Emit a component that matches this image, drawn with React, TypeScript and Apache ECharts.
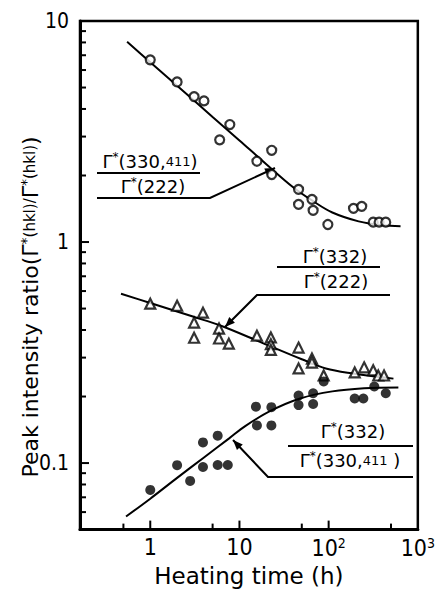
import React, { useEffect, useRef } from 'react';
import * as echarts from 'echarts';

// ---- data ----
// open circles: Γ*(330,411)/Γ*(222)
const openX = [1, 2, 3.1, 4, 6, 7.8, 15.7, 23, 23, 46, 46, 65, 67, 98, 190, 235, 316, 368, 437];
const openY = [6.67, 5.3, 4.55, 4.35, 2.9, 3.4, 2.32, 2.6, 2.02, 1.73, 1.48, 1.56, 1.39, 1.2, 1.42, 1.45, 1.23, 1.23, 1.23];
// open triangles: Γ*(332)/Γ*(222)
const triX = [1, 2, 3.1, 3.1, 3.9, 5.9, 5.9, 7.6, 15.7, 22.5, 22.5, 22.5, 46, 46, 65, 65, 88, 196, 250, 316, 360, 418];
const triY = [0.526, 0.515, 0.432, 0.369, 0.479, 0.406, 0.366, 0.347, 0.377, 0.37, 0.345, 0.325, 0.333, 0.268, 0.297, 0.285, 0.249, 0.257, 0.271, 0.263, 0.249, 0.249];
// filled circles: Γ*(332)/Γ*(330,411)
const filledX = [1, 2, 2.8, 3.9, 3.9, 5.7, 5.7, 7.4, 15.3, 22.8, 15.7, 22.8, 46, 46, 67, 67, 88, 196, 245, 325, 437];
const filledY = [0.0756, 0.0978, 0.083, 0.124, 0.096, 0.133, 0.098, 0.098, 0.18, 0.179, 0.148, 0.148, 0.202, 0.183, 0.207, 0.185, 0.234, 0.196, 0.196, 0.222, 0.207];

// fitted curves
const fitOpenX = [0.55, 1, 2, 5, 10, 20, 40, 67, 110, 217, 400, 640];
const fitOpenY = [8.05, 6.5, 5.1, 3.68, 2.88, 2.25, 1.77, 1.53, 1.36, 1.24, 1.19, 1.18];
const fitTriX = [0.47, 1, 3, 6.2, 18, 50, 93, 180, 533];
const fitTriY = [0.583, 0.53, 0.46, 0.418, 0.35, 0.295, 0.268, 0.255, 0.241];
const fitFilledX = [0.535, 1, 2, 4, 7.6, 11.6, 22.8, 48, 110, 250, 605];
const fitFilledY = [0.0573, 0.069, 0.0857, 0.106, 0.129, 0.147, 0.173, 0.196, 0.211, 0.218, 0.22];

// axes
const X_MIN = 0.163;
const X_MAX = 1000;
const Y_MIN = 0.05;
const Y_MAX = 10;
const xMajorTicks = [1, 10, 100, 1000];
const xMinorTicks = [0.5, 5, 50, 500];
const yMajorTicks = [0.1, 1];
const yMinorTicks = [0.06, 0.07, 0.08, 0.09, 0.2, 0.3, 0.4, 0.5, 0.6, 0.7, 0.8, 0.9, 2, 3, 4, 5, 6, 7, 8, 9];
const xTickLabels: Record<string, string> = { '1': '{n|1}', '10': '{n|10}', '100': '{n|10}{p|2}', '1000': '{n|10}{p|3}' };
const yTickLabels: Record<string, string> = { '0.1': '0.1', '1': '1', '10': '10' };

const zip = (a: number[], b: number[]) => a.map((v, i) => [v, b[i]]);

const TICK_FONT = '"Liberation Sans Narrow", "DejaVu Sans Condensed", "Liberation Sans", sans-serif';
const TEXT_FONT = '"DejaVu Sans", "Liberation Sans", sans-serif';

const gammaRich = {
  g: { fontSize: 18, fontFamily: TEXT_FONT, fill: '#000', color: '#000' },
  s: { fontSize: 12, fontFamily: TEXT_FONT, color: '#000', verticalAlign: 'top', padding: [0, 0, 8, 0] },
  t: { fontSize: 18, fontFamily: TEXT_FONT, color: '#000' },
  m: { fontSize: 13, fontFamily: TEXT_FONT, color: '#000' },
};

function arrowHead(x1: number, y1: number, x2: number, y2: number, len = 10, half = 4) {
  const a = Math.atan2(y2 - y1, x2 - x1);
  const bx = x2 - len * Math.cos(a);
  const by = y2 - len * Math.sin(a);
  const nx = -Math.sin(a) * half;
  const ny = Math.cos(a) * half;
  return {
    type: 'polygon',
    shape: { points: [[x2, y2], [bx + nx, by + ny], [bx - nx, by - ny]] },
    style: { fill: '#000' },
    silent: true,
  };
}

function leaderLine(points: number[][]) {
  return { type: 'polyline', shape: { points }, style: { stroke: '#000', lineWidth: 2, fill: null }, silent: true };
}

function label(x: number, y: number, text: string) {
  return {
    type: 'text',
    x,
    y,
    silent: true,
    style: { text, rich: gammaRich, align: 'center', verticalAlign: 'middle', fill: '#000' },
  };
}

function tickSeries(data: number[][], horizontal: boolean) {
  return {
    type: 'custom',
    coordinateSystem: 'cartesian2d',
    silent: true,
    clip: false,
    data,
    z: 5,
    renderItem: (params: any, api: any) => {
      const p = api.coord([api.value(0), api.value(1)]);
      const len = api.value(2) ? 9 : 6;
      return {
        type: 'line',
        shape: horizontal
          ? { x1: p[0], y1: p[1], x2: p[0] + len, y2: p[1] }
          : { x1: p[0], y1: p[1], x2: p[0], y2: p[1] - len },
        style: { stroke: '#000', lineWidth: 2 },
      };
    },
  };
}

export default function App() {
  const ref = useRef<HTMLDivElement>(null);
  useEffect(() => {
    if (!ref.current) return;
    const chart = echarts.init(ref.current, null, { renderer: 'svg' });
    const lineStyle = { color: '#000', width: 2 };
    const option: any = {
      animation: false,
      backgroundColor: '#fff',
      grid: { left: 80, right: 11, top: 21, bottom: 60, show: true, borderColor: '#000', borderWidth: 2.5, backgroundColor: 'transparent' },
      xAxis: {
        type: 'log',
        min: X_MIN,
        max: X_MAX,
        logBase: 10,
        name: 'Heating time (h)',
        nameLocation: 'middle',
        nameGap: 33,
        nameTextStyle: { fontFamily: TEXT_FONT, fontSize: 23, color: '#000' },
        axisLine: { onZero: false, lineStyle: { color: '#000', width: 3 } },
        axisTick: { show: false },
        splitLine: { show: false },
        minorTick: { show: false },
        axisLabel: {
          margin: 6,
          color: '#000',
          showMinLabel: true,
          showMaxLabel: true,
          hideOverlap: false,
          formatter: (v: number) => xTickLabels[String(Math.round(v * 1000) / 1000)] || '',
          rich: {
            n: { fontFamily: TICK_FONT, fontSize: 23, color: '#000' },
            p: { fontFamily: TICK_FONT, fontSize: 14, color: '#000', verticalAlign: 'top', padding: [0, 0, 10, 0] },
          },
        },
      },
      yAxis: {
        type: 'log',
        min: Y_MIN,
        max: Y_MAX,
        logBase: 10,
        axisLine: { onZero: false, lineStyle: { color: '#000', width: 3 } },
        axisTick: { show: false },
        splitLine: { show: false },
        minorTick: { show: false },
        axisLabel: {
          margin: 11,
          color: '#000',
          fontFamily: TICK_FONT,
          fontSize: 21,
          showMinLabel: true,
          showMaxLabel: true,
          hideOverlap: false,
          formatter: (v: number) => yTickLabels[String(Math.round(v * 1000) / 1000)] || '',
        },
      },
      series: [
        tickSeries(yMinorTicks.map((v) => [X_MIN, v, 0]).concat(yMajorTicks.map((v) => [X_MIN, v, 1])), true),
        tickSeries(xMinorTicks.map((v) => [v, Y_MIN, 0]).concat(xMajorTicks.slice(0, 3).map((v) => [v, Y_MIN, 1])), false),
        { type: 'line', data: zip(fitOpenX, fitOpenY), smooth: 0.35, showSymbol: false, lineStyle, silent: true },
        { type: 'line', data: zip(fitTriX, fitTriY), smooth: 0.35, showSymbol: false, lineStyle, silent: true },
        { type: 'line', data: zip(fitFilledX, fitFilledY), smooth: 0.35, showSymbol: false, lineStyle, silent: true },
        {
          type: 'scatter',
          data: zip(openX, openY),
          symbol: 'circle',
          symbolSize: 9,
          itemStyle: { color: '#fff', borderColor: '#000', borderWidth: 2.2 },
          z: 4,
        },
        {
          type: 'scatter',
          data: zip(triX, triY),
          symbol: 'triangle',
          symbolSize: 10,
          itemStyle: { color: '#fff', borderColor: '#000', borderWidth: 2.2 },
          z: 4,
        },
        {
          type: 'scatter',
          data: zip(filledX, filledY),
          symbol: 'circle',
          symbolSize: 10,
          itemStyle: { color: '#000' },
          z: 4,
        },
      ],
      graphic: [
        {
          type: 'text',
          x: 30,
          y: 307,
          rotation: Math.PI / 2,
          silent: true,
          style: {
            text: '{n|Peak intensity ratio(}{g|Γ}{s|*}{m|(hkl)/}{g|Γ}{s|*}{m|(hkl)}{n|)}',
            rich: {
              n: { fontFamily: TEXT_FONT, fontSize: 22, fill: '#000' },
              g: { fontFamily: TEXT_FONT, fontSize: 22, fill: '#000' },
              s: { fontFamily: TEXT_FONT, fontSize: 14, fill: '#000', verticalAlign: 'top', padding: [0, 0, 8, 0] },
              m: { fontFamily: TEXT_FONT, fontSize: 15, fill: '#000' },
            },
            align: 'center',
            verticalAlign: 'middle',
            fill: '#000',
          },
        },
        // annotation 1
        label(150, 161, '{g|Γ}{s|*}{t|(330,}{m|411}{t|)}'),
        leaderLine([[97, 173], [200, 173]]),
        label(153, 186, '{g|Γ}{s|*}{t|(222)}'),
        leaderLine([[97, 198], [210, 198], [275, 168]]),
        arrowHead(210, 198, 275, 168),
        // annotation 2
        label(335, 256, '{g|Γ}{s|*}{t|(332)}'),
        leaderLine([[277, 267], [380, 267]]),
        label(336, 281, '{g|Γ}{s|*}{t|(222)}'),
        leaderLine([[390, 295], [257, 295], [225, 327]]),
        arrowHead(257, 295, 225, 327),
        // annotation 3
        label(353, 431, '{g|Γ}{s|*}{t|(332)}'),
        leaderLine([[288, 446], [413, 446]]),
        label(350, 460, '{g|Γ}{s|*}{t|(330,}{m|411}{t| )}'),
        leaderLine([[413, 477], [268, 477], [233, 440]]),
        arrowHead(268, 477, 233, 440),
      ],
    };
    chart.setOption(option);
    return () => chart.dispose();
  }, []);
  return <div ref={ref} style={{ width: 438, height: 592, position: 'absolute', left: 0, top: 0, background: '#fff' }} />;
}
